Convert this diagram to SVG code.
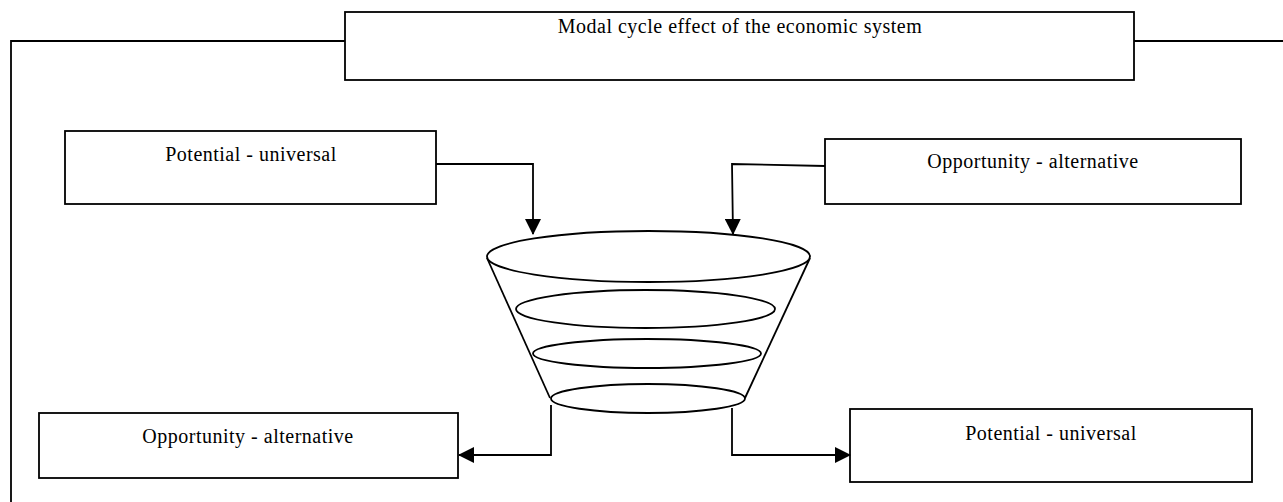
<svg xmlns="http://www.w3.org/2000/svg" width="1283" height="502" viewBox="0 0 1283 502">
<style>
.box{fill:#fff;stroke:#000;stroke-width:1.8}
.ln{fill:none;stroke:#000;stroke-width:1.8}
.lbl{font-family:"Liberation Serif","Times New Roman",serif;font-size:20px;letter-spacing:0.5px;fill:#000;text-anchor:middle}
.fun{fill:#fff;stroke:#000;stroke-width:1.8}
</style>
<defs>
<marker id="ah" markerUnits="userSpaceOnUse" markerWidth="16" markerHeight="16" viewBox="0 0 16 16" refX="15" refY="8" orient="auto">
<path d="M0,0 L16,8 L0,16 Z" fill="#000"/>
</marker>
</defs>
<g id="frame">
<polyline class="ln" points="345,41 11,41 11,502"/>
<line class="ln" x1="1134" y1="41" x2="1283" y2="41"/>
</g>
<g id="title">
<rect class="box" x="345" y="12" width="789" height="68"/>
<text class="lbl" x="740" y="33">Modal cycle effect of the economic system</text>
</g>
<g id="funnel">
<line class="ln" x1="487" y1="258" x2="550" y2="398"/>
<line class="ln" x1="810" y1="258" x2="745" y2="398"/>
<ellipse class="fun" cx="648.5" cy="256.5" rx="161.5" ry="25.5"/>
<ellipse class="fun" cx="645.5" cy="309" rx="129.5" ry="19"/>
<ellipse class="fun" cx="647" cy="353.5" rx="114" ry="14.5"/>
<ellipse class="fun" cx="648" cy="398.5" rx="97" ry="14.5"/>
</g>
<g id="potential-top">
<rect class="box" x="65" y="131" width="371" height="73"/>
<text class="lbl" x="251" y="161">Potential - universal</text>
</g>
<g id="opportunity-top">
<rect class="box" x="825" y="139" width="416" height="65"/>
<text class="lbl" x="1033" y="168">Opportunity - alternative</text>
</g>
<g id="opportunity-bottom">
<rect class="box" x="39" y="413" width="419" height="65"/>
<text class="lbl" x="248" y="443">Opportunity - alternative</text>
</g>
<g id="potential-bottom">
<rect class="box" x="850" y="409" width="402" height="73"/>
<text class="lbl" x="1051" y="440">Potential - universal</text>
</g>
<g id="connectors">
<polyline class="ln" points="436,164 533,164 533,234" marker-end="url(#ah)"/>
<polyline class="ln" points="825,166 732,164 733,234" marker-end="url(#ah)"/>
<polyline class="ln" points="551,405 551,455 459,455" marker-end="url(#ah)"/>
<polyline class="ln" points="732,408 732,455 850,455" marker-end="url(#ah)"/>
</g>
</svg>
